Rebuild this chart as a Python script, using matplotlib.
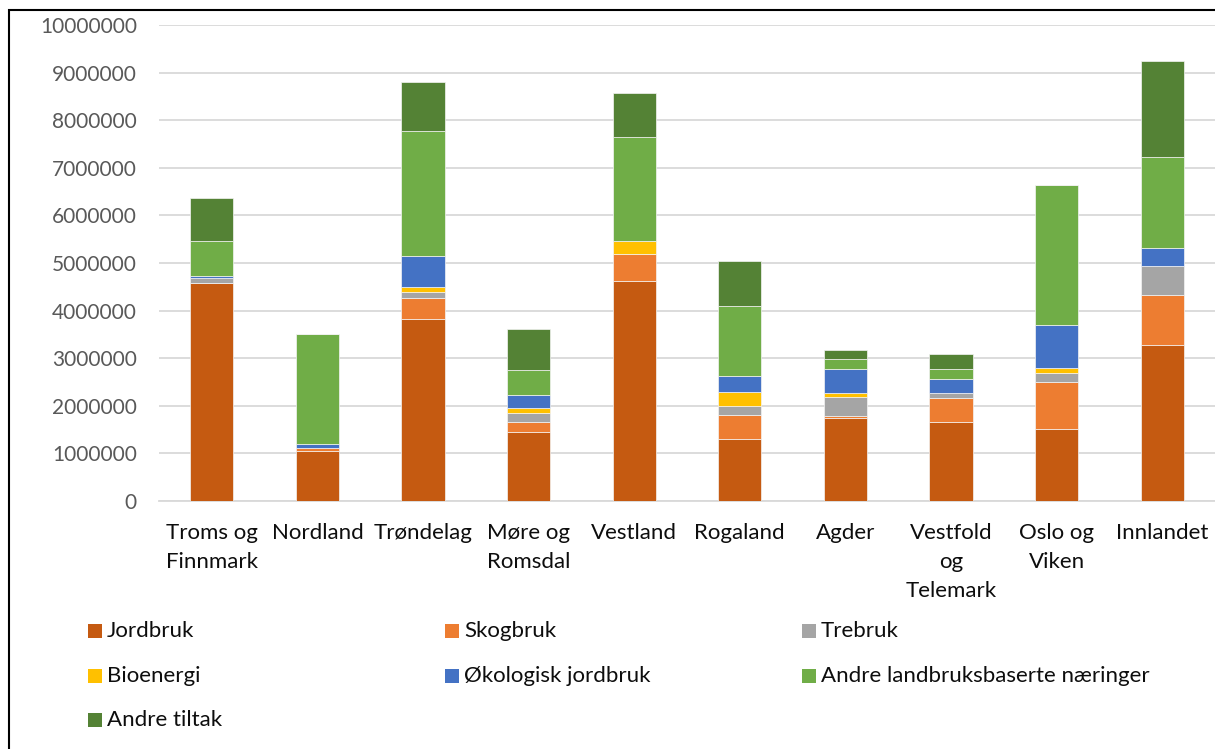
import matplotlib
matplotlib.use('Agg')
import matplotlib.pyplot as plt
from matplotlib.patches import Rectangle
import numpy as np

plt.rcParams['font.family'] = ['Lato', 'DejaVu Sans']

regions = ['Troms og\nFinnmark', 'Nordland', 'Trøndelag', 'Møre og\nRomsdal', 'Vestland',
           'Rogaland', 'Agder', 'Vestfold\nog\nTelemark', 'Oslo og\nViken', 'Innlandet']

series_names = ['Jordbruk', 'Skogbruk', 'Trebruk', 'Bioenergi', 'Økologisk jordbruk',
                'Andre landbruksbaserte næringer', 'Andre tiltak']

jordbruk = [4570000, 1057000, 3817000, 1450000, 4628000, 1309000, 1744000, 1653000, 1506000, 3271000]
skogbruk = [20000, 63000, 454000, 204000, 567000, 490000, 48000, 504000, 1000000, 1057000]
trebruk = [90000, 0, 126000, 195000, 0, 200000, 400000, 111000, 189000, 609000]
bioenergi = [0, 0, 92000, 105000, 260000, 294000, 70000, 0, 99000, 0]
okologisk = [55000, 78000, 651000, 273000, 0, 330000, 517000, 300000, 910000, 384000]
andre_landbruk = [730000, 2310000, 2626000, 519000, 2185000, 1464000, 204000, 204000, 2935000, 1905000]
andre_tiltak = [900000, 0, 1029000, 868000, 937000, 952000, 189000, 321000, 0, 2023000]

colors = ['#C55A11', '#ED7D31', '#A5A5A5', '#FFC000', '#4472C4', '#70AD47', '#548235']

W, H = 1215, 749
fig = plt.figure(figsize=(W / 100, H / 100), dpi=100)
ax = fig.add_axes([159 / W, 1 - 501 / H, (1215 - 159) / W, (501 - 25) / H])

all_series = [jordbruk, skogbruk, trebruk, bioenergi, okologisk, andre_landbruk, andre_tiltak]
x = np.arange(len(regions))
bottom = np.zeros(len(regions))
for vals, col, name in zip(all_series, colors, series_names):
    vals = np.array(vals, dtype=float)
    ax.bar(x, vals, bottom=bottom, width=0.41, color=col, label=name,
           edgecolor='#f4f4f4', linewidth=0.5, zorder=3)
    bottom += vals

ax.set_xlim(-0.5, len(regions) - 0.5)
ax.set_ylim(0, 10000000)
ax.set_yticks(np.arange(0, 10000001, 1000000))
ax.set_yticklabels([str(v) for v in range(0, 10000001, 1000000)])
ax.yaxis.grid(True, color='#d9d9d9', linewidth=1.3, zorder=0)
for s in ['top', 'right', 'left']:
    ax.spines[s].set_visible(False)
ax.spines['bottom'].set_color('#d9d9d9')
ax.spines['bottom'].set_linewidth(1.3)
ax.tick_params(axis='y', length=0, labelsize=15, labelcolor='#595959', pad=16)
ax.tick_params(axis='x', length=0, labelsize=16, labelcolor='#0d0d0d', pad=16)
ax.set_xticks(x)
ax.set_xticklabels(regions, linespacing=1.55, va='top')

# legend laid out row by row like the original
leg_cols = [88, 445, 802]
leg_rows = [631, 676, 720]
for i, (name, col) in enumerate(zip(series_names, colors)):
    r, c = divmod(i, 3)
    px, py = leg_cols[c], leg_rows[r]
    fig.add_artist(Rectangle((px / W, 1 - (py + 7) / H), 14 / W, 14 / H,
                             transform=fig.transFigure, facecolor=col, edgecolor='none'))
    fig.text((px + 19) / W, 1 - py / H, name, fontsize=16, color='#0d0d0d',
             va='center', ha='left')

# outer chart border
fig.add_artist(Rectangle((9 / W, -0.05), 1.1, 1 - 10 / H + 0.05, transform=fig.transFigure,
                         fill=False, edgecolor='black', linewidth=1.5))

fig.savefig('out.png', dpi=100)
